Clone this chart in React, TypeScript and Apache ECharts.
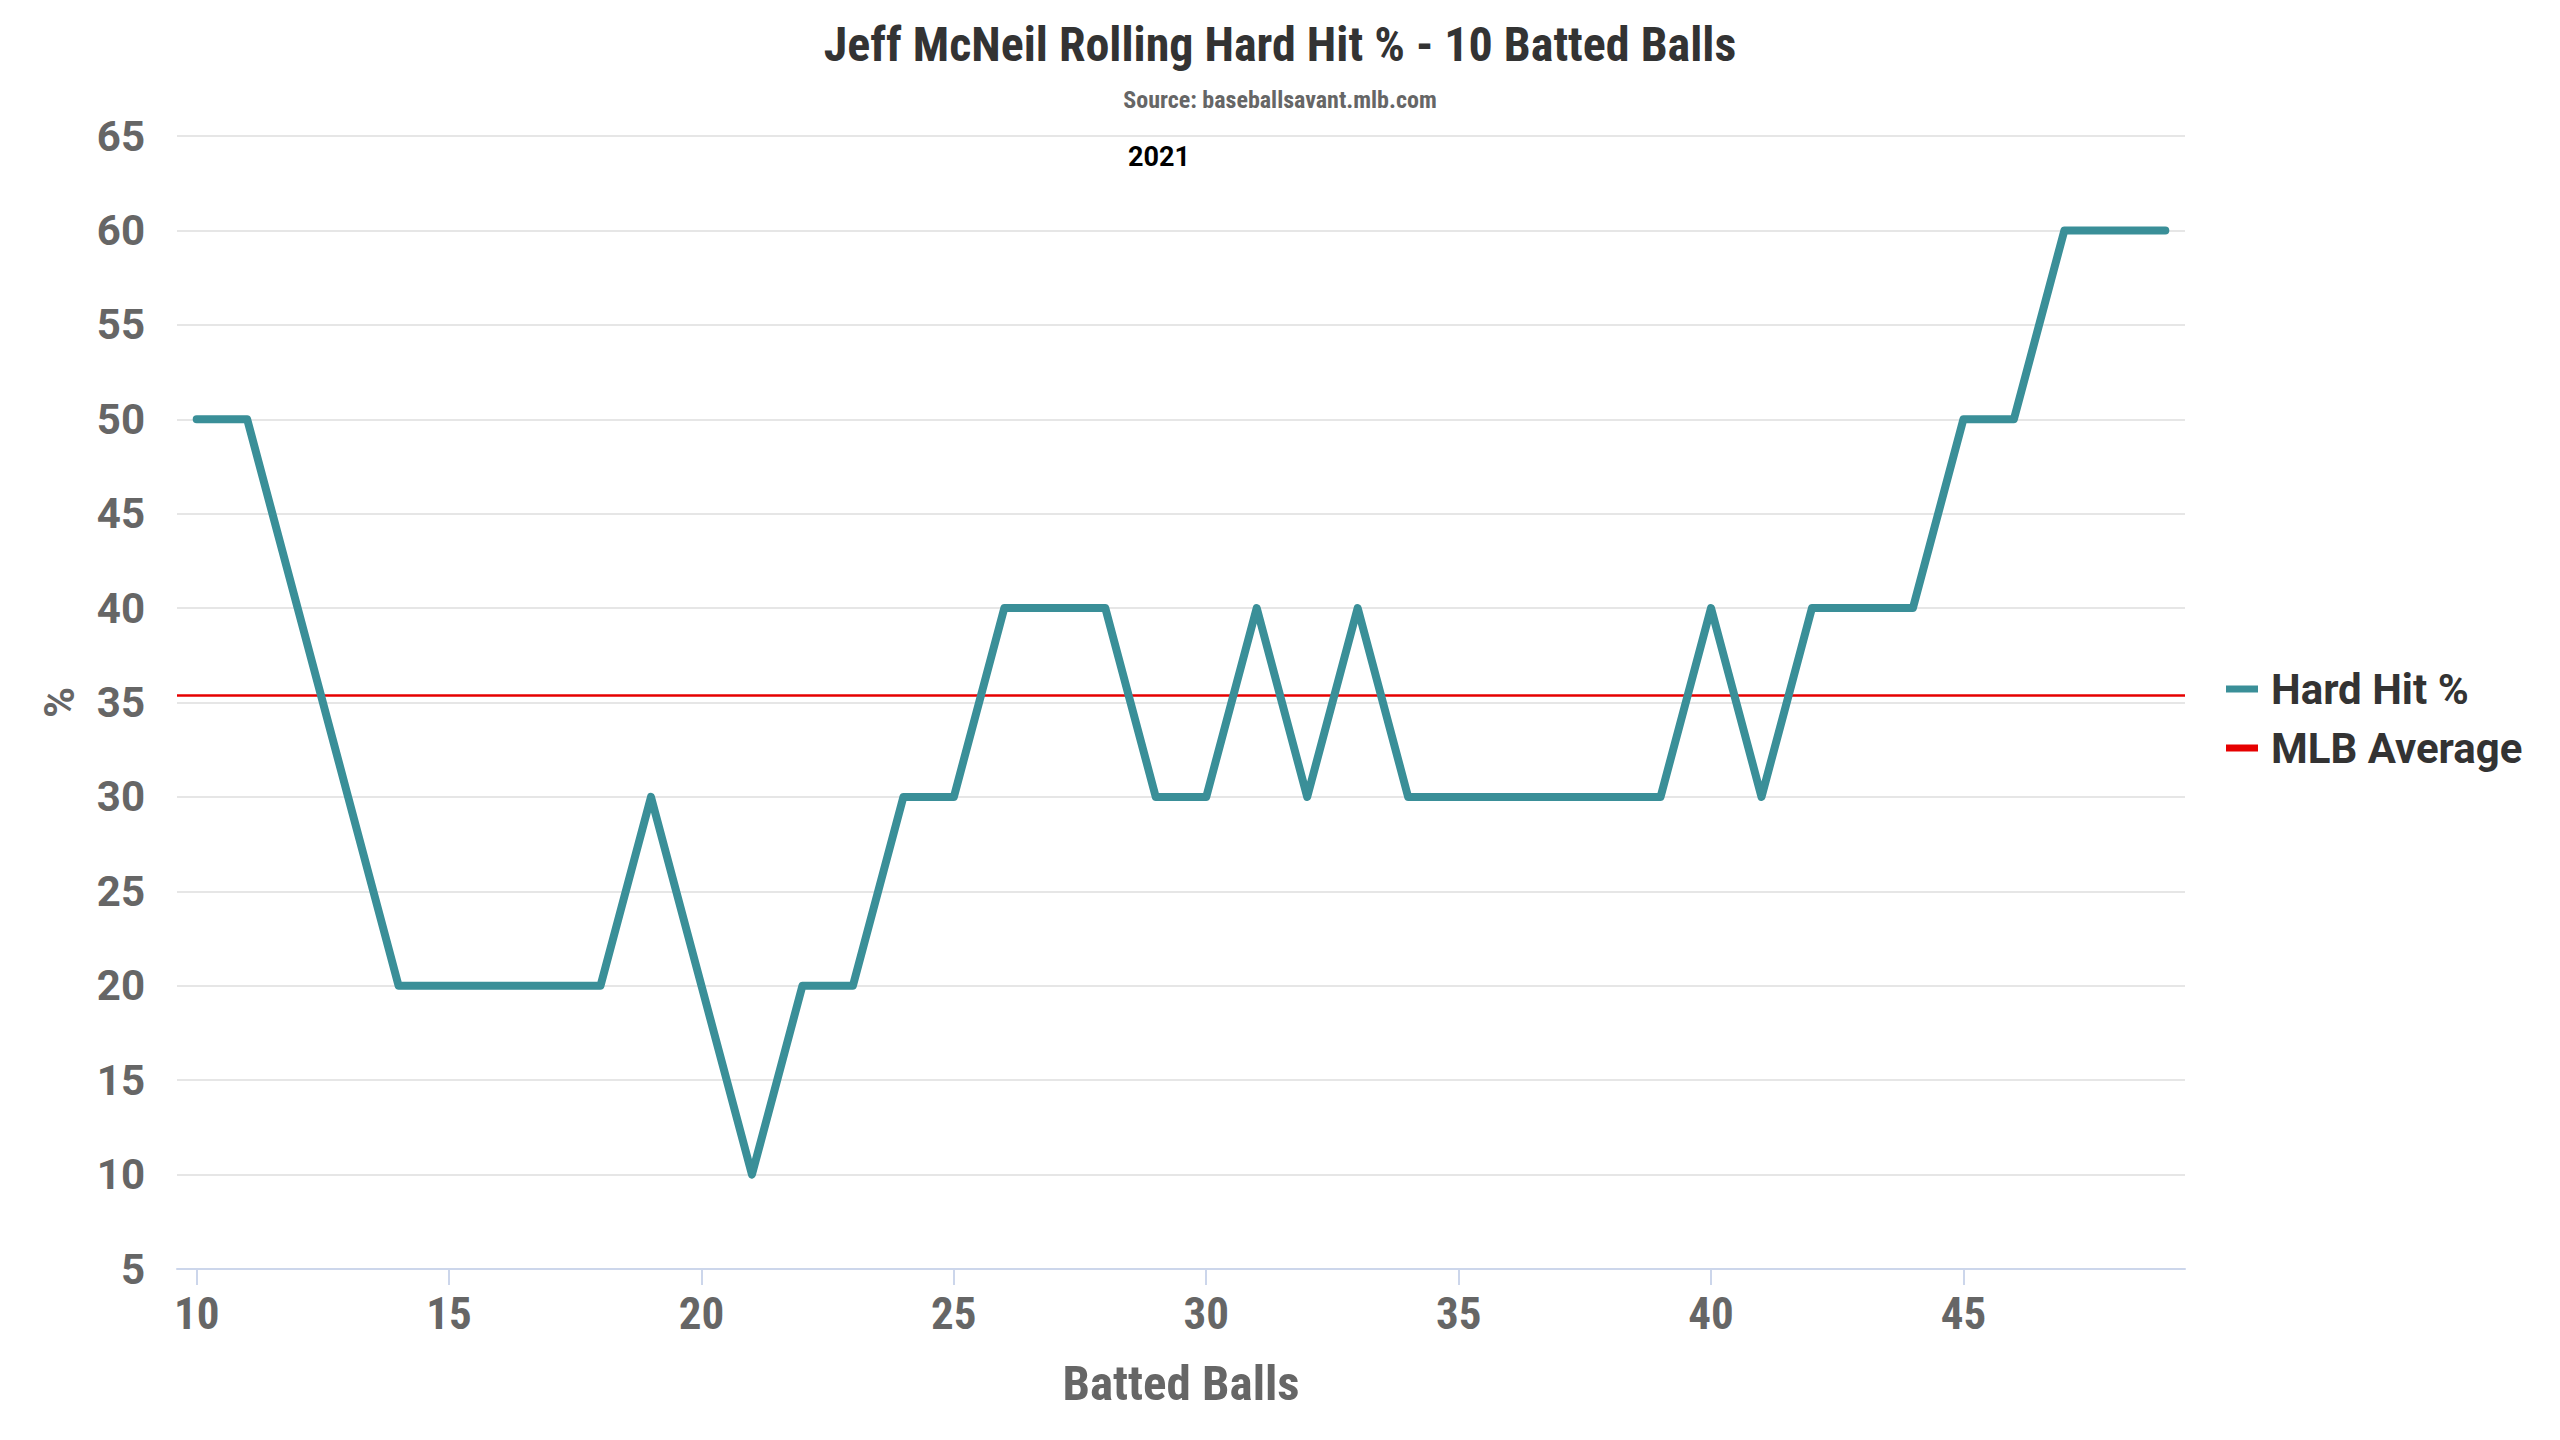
import React, { useEffect, useRef } from "react";
import * as echarts from "echarts";

const titleText = "Jeff McNeil Rolling Hard Hit % - 10 Batted Balls";
const subtitleText = "Source: baseballsavant.mlb.com";
const seasonLabel = "2021";
const xAxisTitle = "Batted Balls";
const yAxisTitle = "%";

const battedBalls = [
  10, 11, 12, 13, 14, 15, 16, 17, 18, 19, 20, 21, 22, 23, 24, 25, 26, 27, 28, 29,
  30, 31, 32, 33, 34, 35, 36, 37, 38, 39, 40, 41, 42, 43, 44, 45, 46, 47, 48, 49,
];
const hardHitPct = [
  50, 50, 40, 30, 20, 20, 20, 20, 20, 30, 20, 10, 20, 20, 30, 30, 40, 40, 40, 30,
  30, 40, 30, 40, 30, 30, 30, 30, 30, 30, 40, 30, 40, 40, 40, 50, 50, 60, 60, 60,
];
const mlbAverage = 35.4;
const xTickValues = [10, 15, 20, 25, 30, 35, 40, 45];
const seriesNames = ["Hard Hit %", "MLB Average"];

const CONDENSED = "'Roboto Condensed', 'Liberation Sans Narrow', 'Arial Narrow', 'DejaVu Sans Condensed', Roboto, sans-serif";
const ROBOTO = "Roboto, 'Noto Sans', sans-serif";

export default function App() {
  const ref = useRef<HTMLDivElement>(null);
  useEffect(() => {
    if (!ref.current) return;
    const chart = echarts.init(ref.current, undefined, { renderer: "svg" });
    const option: any = {
      animation: false,
      backgroundColor: "#ffffff",
      title: {
        text: titleText,
        subtext: subtitleText,
        left: "center",
        top: 15,
        itemGap: 20,
        textStyle: { fontFamily: CONDENSED, fontWeight: "bold", fontSize: 48, color: "#333333" },
        subtextStyle: { fontFamily: CONDENSED, fontWeight: "bold", fontSize: 24, color: "#666666" },
      },
      graphic: [
        {
          type: "text",
          left: 1128,
          top: 143,
          style: { text: seasonLabel, fontFamily: ROBOTO, fontWeight: "bold", fontSize: 27, fill: "#000000" },
        },
      ],
      legend: {
        data: seriesNames,
        orient: "vertical",
        left: 2226,
        top: 668,
        padding: 0,
        itemGap: 17,
        itemWidth: 32,
        itemHeight: 7,
        icon: "rect",
        textStyle: { fontFamily: ROBOTO, fontWeight: "bold", fontSize: 42, color: "#333333", padding: [0, 0, 0, 8] },
      },
      grid: { left: 177, right: 375, top: 136, bottom: 171 },
      xAxis: {
        type: "value",
        min: 9.61,
        max: 49.39,
        name: xAxisTitle,
        nameLocation: "middle",
        nameGap: 90,
        nameTextStyle: { fontFamily: CONDENSED, fontWeight: "bold", fontSize: 49, color: "#666666" },
        axisLine: { show: true, lineStyle: { color: "#ccd6eb", width: 2 } },
        axisTick: { show: true, length: 16, customValues: xTickValues, lineStyle: { color: "#ccd6eb", width: 2 } },
        axisLabel: {
          customValues: xTickValues,
          margin: 22,
          fontFamily: CONDENSED,
          fontWeight: "bold",
          fontSize: 45,
          color: "#666666",
        },
        splitLine: { show: false },
      },
      yAxis: {
        type: "value",
        min: 5,
        max: 65,
        interval: 5,
        name: yAxisTitle,
        nameLocation: "middle",
        nameRotate: 90,
        nameGap: 97,
        nameTextStyle: { fontFamily: ROBOTO, fontWeight: "bold", fontSize: 42, color: "#666666" },
        axisLine: { show: false },
        axisTick: { show: false },
        axisLabel: { margin: 32, fontFamily: ROBOTO, fontWeight: "bold", fontSize: 42, color: "#666666" },
        splitLine: { show: true, lineStyle: { color: "#e6e6e6", width: 2 } },
      },
      series: [
        {
          name: seriesNames[1],
          type: "line",
          data: [],
          itemStyle: { color: "#e60000" },
          lineStyle: { color: "#e60000", width: 2 },
          markLine: {
            silent: true,
            symbol: "none",
            z: 1,
            label: { show: false },
            lineStyle: { color: "#e60000", width: 2.5, type: "solid" },
            data: [{ yAxis: mlbAverage }],
          },
        },
        {
          name: seriesNames[0],
          type: "line",
          z: 3,
          data: battedBalls.map((b, i) => [b, hardHitPct[i]]),
          showSymbol: false,
          symbol: "none",
          itemStyle: { color: "#3a8f98" },
          lineStyle: { color: "#3a8f98", width: 8, cap: "round", join: "round" },
        },
      ],
    };
    chart.setOption(option);
    return () => chart.dispose();
  }, []);
  return (
    <div
      ref={ref}
      style={{ position: "fixed", left: 0, top: 0, width: 2560, height: 1440, background: "#fff" }}
    />
  );
}
